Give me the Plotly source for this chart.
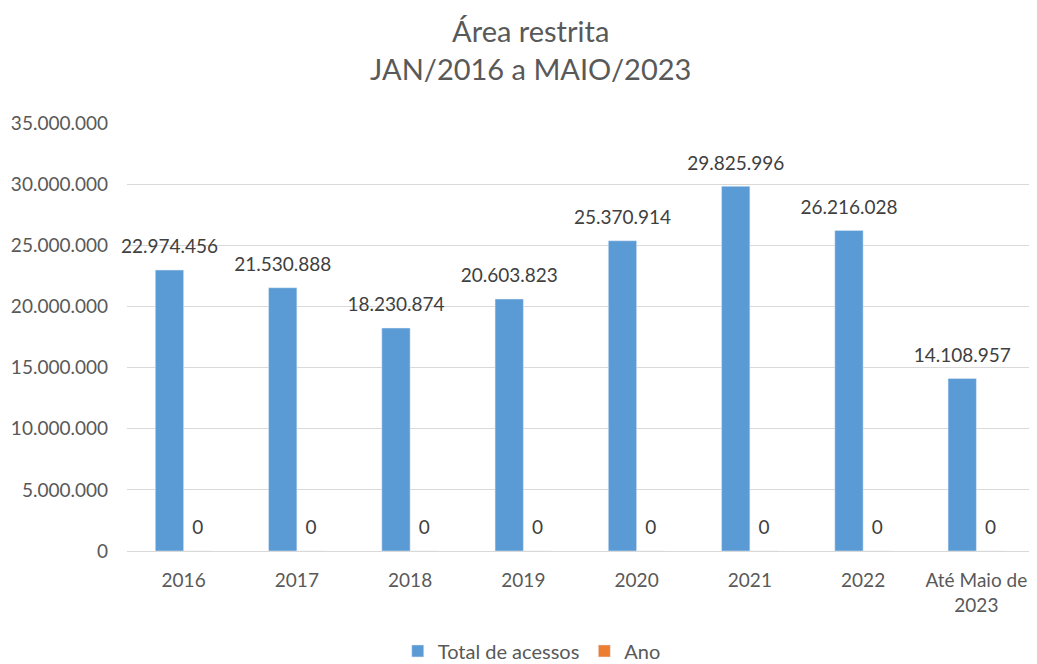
import plotly.graph_objects as go

categories = ["2016", "2017", "2018", "2019", "2020", "2021", "2022", "Até Maio de<br>2023"]
total_acessos = [22974456, 21530888, 18230874, 20603823, 25370914, 29825996, 26216028, 14108957]
ano = [0, 0, 0, 0, 0, 0, 0, 0]
tick_vals = [0, 5000000, 10000000, 15000000, 20000000, 25000000, 30000000, 35000000]


def fmt(v):
    return f"{v:,}".replace(",", ".")


def label(v):
    # big number line + small empty line to lift the label above the bar
    return f"<span style='font-size:19px'>{fmt(v)}</span><br> "


FONT = "Lato, 'Open Sans', sans-serif"

fig = go.Figure()
fig.add_trace(go.Bar(
    x=categories, y=total_acessos, name="Total de acessos",
    marker=dict(color="#5b9bd5"),
    text=[label(v) for v in total_acessos], textposition="outside",
    textfont=dict(size=9, color="#404040", family=FONT),
    constraintext="none", cliponaxis=False,
))
fig.add_trace(go.Bar(
    x=categories, y=ano, name="Ano",
    marker=dict(color="#ed7d31"),
    text=[label(v) for v in ano], textposition="outside",
    textfont=dict(size=9, color="#404040", family=FONT),
    constraintext="none", cliponaxis=False,
))

fig.update_layout(
    width=1029, height=656,
    paper_bgcolor="white", plot_bgcolor="white",
    font=dict(family=FONT, color="#595959", size=19),
    title=dict(text="Área restrita<br>JAN/2016 a MAIO/2023", x=0.508, xanchor="center",
               yref="container", y=0.948, yanchor="top",
               font=dict(size=29, color="#595959", family=FONT)),
    barmode="group", bargap=0.5, bargroupgap=0,
    margin=dict(l=119, r=4, t=115, b=113, autoexpand=False),
    showlegend=True,
    legend=dict(orientation="h", xref="container", x=0.509, xanchor="center",
                yref="paper", y=-0.188, yanchor="top",
                font=dict(size=20, color="#595959"), itemwidth=30,
                traceorder="normal"),
    xaxis=dict(showgrid=False, showline=True, linecolor="#d9d9d9", linewidth=1,
               ticks="", automargin=False, ticklabelstandoff=12,
               tickfont=dict(size=19, color="#595959")),
    yaxis=dict(range=[0, 35000000], tickvals=tick_vals,
               ticktext=[fmt(v) for v in tick_vals],
               showgrid=True, gridcolor="#d9d9d9", gridwidth=1,
               zeroline=False, showline=False, ticks="", automargin=False,
               ticklabelstandoff=18,
               tickfont=dict(size=19, color="#595959")),
)

fig.write_html("out.html")
